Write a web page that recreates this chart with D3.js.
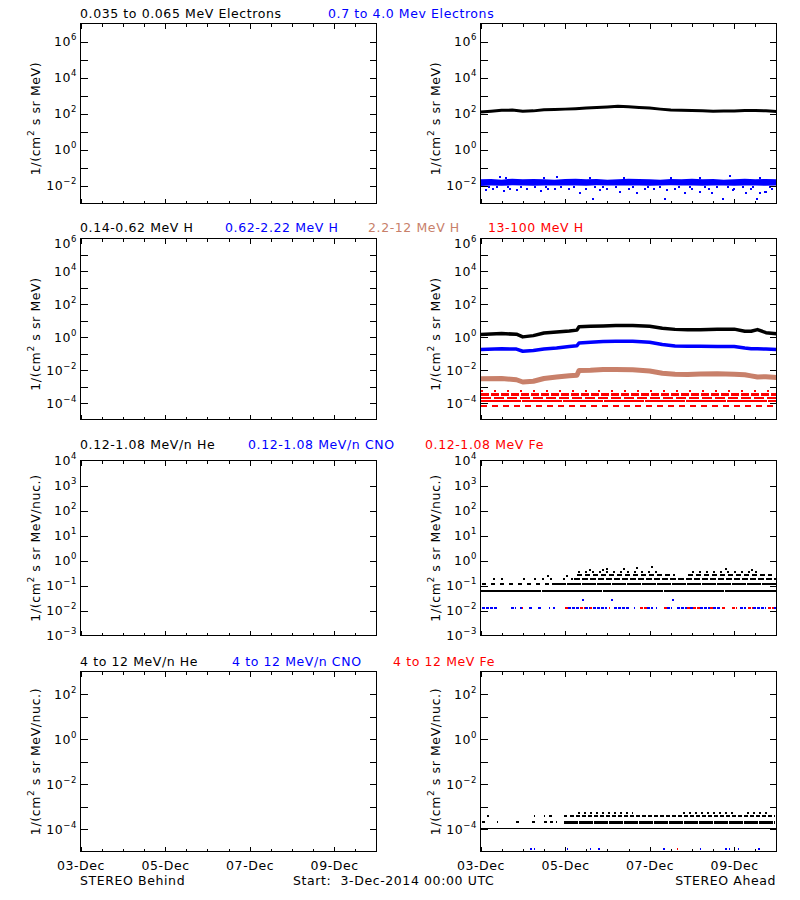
<!DOCTYPE html>
<html><head><meta charset="utf-8">
<script src="https://cdn.jsdelivr.net/npm/d3@7"></script>
<style>
body{margin:0;background:#fff;}
svg text{font-family:"DejaVu Sans","Liberation Sans",sans-serif;font-size:12.5px;letter-spacing:0.6px;}
</style></head><body>
<svg id="c" width="800" height="900"></svg>
<script>
// ---------------- DATA ----------------
const startDate = "3-Dec-2014";
const rowTitles = [
  ["0.035 to 0.065 MeV Electrons", "0.7 to 4.0 Mev Electrons"],
  ["0.14-0.62 MeV H", "0.62-2.22 MeV H", "2.2-12 MeV H", "13-100 MeV H"],
  ["0.12-1.08 MeV/n He", "0.12-1.08 MeV/n CNO", "0.12-1.08 MeV Fe"],
  ["4 to 12 MeV/n He", "4 to 12 MeV/n CNO", "4 to 12 MeV Fe"]
];
const yUnits = ["1/(cm|2| s sr MeV)", "1/(cm|2| s sr MeV)", "1/(cm|2| s sr MeV/nuc.)", "1/(cm|2| s sr MeV/nuc.)"];
const rowDomains = [[1e-3, 1e7], [1e-5, 1e6], [1e-3, 1e4], [1e-5, 1e3]];
const rowLabelExps = [[-2, 0, 2, 4, 6], [-4, -2, 0, 2, 4, 6], [-3, -2, -1, 0, 1, 2, 3, 4], [-4, -2, 0, 2]];
const xMajorDays = [0, 2, 4, 6];
const xMinorDays = [0.5, 1, 1.5, 2.5, 3, 3.5, 4.5, 5, 5.5, 6.5];

// Electrons (STEREO Ahead), days since 3-Dec 00:00
const elTimes = [0,0.25,0.5,0.75,1,1.25,1.5,1.75,2,2.25,2.5,2.75,3,3.25,3.5,3.75,4,4.25,4.5,4.75,5,5.25,5.5,5.75,6,6.25,6.5,6.75,7];
const elLowAhead = [120,135,150,155,135,140,160,165,175,185,200,215,230,250,235,215,200,175,155,150,148,140,135,138,138,145,148,140,128];
const elHighBandLo = [0.0095,0.01,0.0098,0.0102,0.01,0.0097,0.01,0.0101,0.0099,0.01,0.0098,0.0102,0.01,0.0099,0.0101,0.01,0.0098,0.01,0.0102,0.0099,0.01,0.0097,0.01,0.0101,0.0098,0.01,0.0099,0.0097,0.01];
const elHighBandHi = [0.022,0.023,0.021,0.024,0.022,0.023,0.022,0.021,0.023,0.024,0.022,0.023,0.021,0.022,0.024,0.023,0.022,0.021,0.023,0.022,0.024,0.022,0.023,0.021,0.022,0.024,0.022,0.023,0.022];
const elHighPts = [[0.12,0.0055],[0.3,0.0065],[0.47,0.03],[0.55,0.0048],[0.7,0.0062],[0.87,0.0055],[1.1,0.0066],[1.42,0.005],[1.6,0.0063],[1.77,0.0068],[1.81,0.03],[2.1,0.0064],[2.36,0.0039],[2.5,0.0067],[2.65,0.0017],[2.83,0.0055],[3.0,0.0062],[3.3,0.0044],[3.5,0.0066],[3.7,0.0036],[3.89,0.006],[4.1,0.0063],[4.37,0.0017],[4.4,0.0055],[4.6,0.0065],[4.84,0.0036],[5.0,0.0062],[5.19,0.0044],[5.4,0.0067],[5.47,0.0039],[5.74,0.0017],[5.9,0.034],[5.98,0.0055],[6.0,0.0063],[6.29,0.0036],[6.4,0.0066],[6.53,0.0017],[6.76,0.0044],[6.9,0.0062],[6.6,0.0038],[6.72,0.0042],[0.2,0.0078],[0.4,0.0082],[0.65,0.008],[0.95,0.0079],[1.3,0.0081],[1.55,0.0078],[1.9,0.0082],[2.2,0.008],[2.7,0.0079],[2.9,0.0081],[3.2,0.0078],[3.6,0.0082],[3.95,0.008],[4.25,0.0079],[4.7,0.0081],[4.95,0.0078],[5.3,0.0082],[5.6,0.008],[5.85,0.0079],[6.2,0.0081],[6.45,0.0078],[6.85,0.008],[0.6,0.027],[1.5,0.026],[2.6,0.027],[3.4,0.026],[4.5,0.027],[5.2,0.026],[6.6,0.027]];

// Protons (STEREO Ahead)
const hTimes = [0,0.5,0.85,1.0,1.25,1.5,1.8,2.1,2.28,2.33,2.6,2.9,3.2,3.6,4.0,4.3,4.6,4.9,5.2,5.6,6.0,6.25,6.4,6.55,6.75,7.0];
const hLowAhead  = [1.45,1.66,1.52,1.05,1.25,1.8,2.1,2.4,2.7,4.3,4.6,4.8,5.1,5.1,4.6,3.5,3.0,2.8,2.8,3.1,3.1,2.3,2.3,2.9,1.9,1.65];
const hMidAhead  = [0.18,0.2,0.19,0.14,0.155,0.19,0.22,0.27,0.30,0.45,0.5,0.55,0.57,0.57,0.5,0.36,0.29,0.28,0.28,0.27,0.27,0.22,0.2,0.2,0.19,0.18];
const hHighAhead = [0.003,0.0031,0.0026,0.0019,0.0021,0.0031,0.0038,0.0045,0.0049,0.0095,0.0098,0.011,0.011,0.0105,0.0088,0.0065,0.0056,0.0055,0.0058,0.006,0.0057,0.0052,0.0045,0.0038,0.004,0.0036];
const hVHighLevels = [5.5e-4, 3.4e-4, 2.0e-4, 1.4e-4, 6.4e-5];

// Low-energy ions (STEREO Ahead)
const heLowLevels = [0.059, 0.117, 0.117, 0.186, 0.186, 0.26, 0.34];
const heLowSegs = [
  [[0,7]],
  [[0.04,1.7]],
  [[1.7,7]],
  [[0.3,0.55],[1.0,1.2],[1.26,1.75],[1.95,2.2]],
  [[2.2,7]],
  [[2.28,4.6],[4.9,6.9]],
  [[2.3,4.3],[5.0,6.6]]
];
const heLowPts = [[2.6,0.42],[2.9,0.42],[3.0,0.45],[3.4,0.44],[3.7,0.5],[4.05,0.54],[5.8,0.46],[6.43,0.4],[1.6,0.25],[2.05,0.24]];
const cnoLowLevel = 0.0124;
const cnoLowSegs = [[0.04,0.39],[0.71,0.83],[0.94,1.02],[1.14,1.22],[1.35,1.42],[1.61,1.65],[1.71,1.77],[2.06,2.4],[2.48,2.99],[3.15,3.54],[3.62,3.66],[3.93,4.09],[4.16,4.18],[4.4,4.52],[4.64,4.88],[4.96,5.03],[5.19,5.43],[5.5,5.66],[6.13,6.29],[6.45,6.76],[6.95,7.0]];
const feLowSegs = [[0.99,1.01],[2.0,2.08],[2.36,2.48],[2.6,2.63],[3.03,3.07],[3.78,3.93],[4.33,4.4],[4.88,4.96],[5.03,5.19],[5.43,5.5],[5.7,5.78],[5.94,6.06],[6.33,6.45],[6.8,6.95]];
const cnoLowPts = [[2.42,0.027],[3.1,0.027],[4.55,0.027]];

// High-energy ions (STEREO Ahead)
const heHiLevels = [1.1e-4, 2.15e-4, 2.15e-4, 3.6e-4, 5.4e-4];
const heHiSegs = [
  [[0,7]],
  [[0.04,0.12],[0.39,0.42],[0.83,0.99],[1.22,1.3],[1.5,1.8]],
  [[1.97,6.96]],
  [[0.16,0.19],[1.26,1.3],[1.5,1.53],[1.62,1.7],[1.97,2.05],[2.12,6.96]],
  [[2.3,3.6],[4.8,6.0],[6.3,6.8]]
];
const cnoHiLevel = 1.3e-5;
const cnoHiSegs = [[1.18,1.3],[2.05,2.07],[2.6,2.62],[2.78,2.83],[4.32,4.36],[5.2,5.22],[5.78,5.9],[6.09,6.11],[6.56,6.65]];
const feHiSegs = [[4.64,4.68]];

// ---------------- LAYOUT ----------------
const svg = d3.select("#c");
const BLUE = "#0000ff", RED = "#ff0000", BROWN = "#c8806a";
const startMs = Date.UTC(2014, 11, 3);
const toDate = d => new Date(startMs + d * 864e5);
const colX = [80.5, 480.5], panelW = 296;
const rowY = [[23.5, 203.5], [238.5, 419.5], [460.5, 635.5], [671.5, 851.5]];
const unitOffset = [5, 5, 0, 0];
const topLabelShift = [0, 4.5, 0, 0];
const titleX = [[80, 328], [80, 225, 368, 488], [80, 248, 425], [80, 232, 393]];
const titleColors = [["#000", BLUE], ["#000", BLUE, BROWN, RED], ["#000", BLUE, RED], ["#000", BLUE, RED]];
const titleBase = [17.5, 232, 449, 666];

const panels = {};
rowY.forEach((ry, r) => {
  colX.forEach((x0, c) => {
    const x = d3.scaleUtc().domain([toDate(0), toDate(7)]).range([x0, x0 + panelW]);
    const y = d3.scaleLog().domain(rowDomains[r]).range([ry[1], ry[0]]);
    const g = svg.append("g");
    const clipId = `clip${r}${c}`;
    svg.append("clipPath").attr("id", clipId).append("rect")
      .attr("x", x0).attr("y", ry[0]).attr("width", panelW).attr("height", ry[1] - ry[0]);
    const data = g.append("g").attr("clip-path", `url(#${clipId})`);
    panels[`${r}${c}`] = {x, y, data};

    // frame
    g.append("rect").attr("x", x0).attr("y", ry[0]).attr("width", panelW).attr("height", ry[1] - ry[0])
      .attr("fill", "none").attr("stroke", "#000").attr("stroke-width", 1).attr("shape-rendering", "crispEdges");

    // y ticks (every decade)
    const lo = Math.log10(rowDomains[r][0]), hi = Math.log10(rowDomains[r][1]);
    const decades = d3.range(lo + 1, hi).map(e => Math.pow(10, e));
    const yl = g.append("g").attr("transform", `translate(${x0},0)`)
      .call(d3.axisLeft(y).tickValues(decades).tickSizeInner(-7).tickSizeOuter(0).tickFormat(""));
    const yr = g.append("g").attr("transform", `translate(${x0 + panelW},0)`)
      .call(d3.axisRight(y).tickValues(decades).tickSizeInner(-7).tickSizeOuter(0).tickFormat(""));
    [yl, yr].forEach(a => { a.select(".domain").remove(); a.selectAll("line").attr("stroke", "#000").attr("shape-rendering", "crispEdges"); });

    // y tick labels 10^e
    rowLabelExps[r].forEach(e => {
      let yy = y(Math.pow(10, e));
      if (Math.abs(yy - ry[0]) < 3) yy += topLabelShift[r];
      const t = g.append("text").attr("x", x0 - 3.5).attr("y", yy + 4.5).attr("text-anchor", "end");
      t.append("tspan").text("10");
      t.append("tspan").attr("dy", -6).style("font-size", "8.5px").text(String(e).replace("-", "\u2212"));
    });

    // x ticks top & bottom
    [[ry[1], 1], [ry[0], -1]].forEach(([yy, dir]) => {
      const axMaj = (dir === 1 ? d3.axisBottom(x) : d3.axisTop(x))
        .tickValues(xMajorDays.map(toDate)).tickSizeInner(-5).tickSizeOuter(0).tickFormat("");
      const axMin = (dir === 1 ? d3.axisBottom(x) : d3.axisTop(x))
        .tickValues(xMinorDays.map(toDate)).tickSizeInner(-3).tickSizeOuter(0).tickFormat("");
      [axMaj, axMin].forEach(ax => {
        const a = g.append("g").attr("transform", `translate(0,${yy})`).call(ax);
        a.select(".domain").remove();
        a.selectAll("line").attr("stroke", "#000").attr("shape-rendering", "crispEdges");
      });
    });

    // x tick labels on bottom row
    if (r === 3) {
      const a = g.append("g").attr("transform", `translate(0,${ry[1]})`)
        .call(d3.axisBottom(x).tickValues(xMajorDays.map(toDate)).tickSize(0).tickPadding(0)
          .tickFormat(d3.utcFormat("%d-%b")));
      a.select(".domain").remove();
      a.selectAll("text").attr("dy", null).attr("y", 18.5)
        .style("font-family", '"DejaVu Sans",sans-serif').style("font-size", "12.5px")
        .style("letter-spacing", "0.6px").attr("fill", "#000");
    }

    // y unit label
    const parts = yUnits[r].split("|");
    const cy = (ry[0] + ry[1]) / 2 + unitOffset[r];
    const lx = x0 - 40.5;
    const ut = g.append("text").attr("transform", `translate(${lx},${cy}) rotate(-90)`).attr("text-anchor", "middle");
    ut.append("tspan").text(parts[0]);
    ut.append("tspan").attr("dy", -6).style("font-size", "9px").text(parts[1]);
    ut.append("tspan").attr("dy", 6).text(parts[2]);
  });
  // titles
  rowTitles[r].forEach((t, i) => {
    svg.append("text").attr("x", titleX[r][i]).attr("y", titleBase[r]).attr("fill", titleColors[r][i]).text(t);
  });
});

// bottom texts
svg.append("text").attr("x", 80).attr("y", 885).text("STEREO Behind");
svg.append("text").attr("x", 293).attr("y", 885).attr("xml:space", "preserve").text(`Start:  ${startDate} 00:00 UTC`);
svg.append("text").attr("x", 776).attr("y", 885).attr("text-anchor", "end").text("STEREO Ahead");

// ---------------- SERIES ----------------
function drawLine(p, times, vals, color, w) {
  p.data.append("path").datum(times.map((t, i) => [t, vals[i]]))
    .attr("d", d3.line().x(d => p.x(toDate(d[0]))).y(d => p.y(d[1])))
    .attr("fill", "none").attr("stroke", color).attr("stroke-width", w).attr("stroke-linejoin", "round");
}
function drawBand(p, times, lo, hi, color) {
  p.data.append("path").datum(times.map((t, i) => [t, lo[i], hi[i]]))
    .attr("d", d3.area().x(d => p.x(toDate(d[0]))).y0(d => p.y(d[1])).y1(d => p.y(d[2])))
    .attr("fill", color);
}
function drawPts(p, pts, color, w, h) {
  p.data.selectAll(null).data(pts).enter().append("rect")
    .attr("x", d => Math.round(p.x(toDate(d[0]))) - w / 2).attr("y", d => Math.round(p.y(d[1])) - h / 2)
    .attr("width", w).attr("height", h).attr("fill", color).attr("shape-rendering", "crispEdges");
}
function drawSegs(p, segs, level, color, w, dash) {
  const yy = Math.round(p.y(level)) + (w % 2 ? 0.5 : 0);
  segs.forEach(s => {
    p.data.append("line")
      .attr("x1", p.x(toDate(s[0]))).attr("x2", p.x(toDate(s[1])))
      .attr("y1", yy).attr("y2", yy)
      .attr("stroke", color).attr("stroke-width", w).attr("stroke-dasharray", dash)
      .attr("shape-rendering", "crispEdges");
  });
}

// Electrons
const pE = panels["01"];
drawLine(pE, elTimes, elLowAhead, "#000", 3);
drawBand(pE, elTimes, elHighBandLo, elHighBandHi, BLUE);
drawPts(pE, elHighPts, BLUE, 2, 2);

// Protons
const pH = panels["11"];
const redStyles = [[2, "2,11"], [3, "8,2"], [2, "10,3"], [2, "40,1"], [2, "6,5"]];
hVHighLevels.forEach((lv, i) => drawSegs(pH, [[0, 7]], lv, RED, redStyles[i][0], redStyles[i][1]));
drawLine(pH, hTimes, hHighAhead, BROWN, 5);
drawLine(pH, hTimes, hMidAhead, BLUE, 3.5);
drawLine(pH, hTimes, hLowAhead, "#000", 3.5);

// Low-energy ions
const pL = panels["21"];
const heLowStyles = [[2, "60,1"], [2, "4,5"], [2, "14,1"], [2, "2,6"], [2, "6,2"], [2, "5,3"], [2, "2,5"]];
heLowLevels.forEach((lv, i) => drawSegs(pL, heLowSegs[i], lv, "#000", heLowStyles[i][0], heLowStyles[i][1]));
drawPts(pL, heLowPts, "#000", 2, 2);
drawSegs(pL, cnoLowSegs, cnoLowLevel, BLUE, 2, "3,1");
drawSegs(pL, feLowSegs, cnoLowLevel, RED, 2, "3,1");
drawPts(pL, cnoLowPts, BLUE, 2, 2);

// High-energy ions
const pI = panels["31"];
const heHiStyles = [[1, null], [2, "3,3"], [3, "14,1"], [2, "4,2"], [2, "2,4"]];
heHiLevels.forEach((lv, i) => drawSegs(pI, heHiSegs[i], lv, "#000", heHiStyles[i][0], heHiStyles[i][1]));
drawSegs(pI, cnoHiSegs, cnoHiLevel, BLUE, 2, "2,2");
drawSegs(pI, feHiSegs, cnoHiLevel, RED, 2, null);
</script>
</body></html>
